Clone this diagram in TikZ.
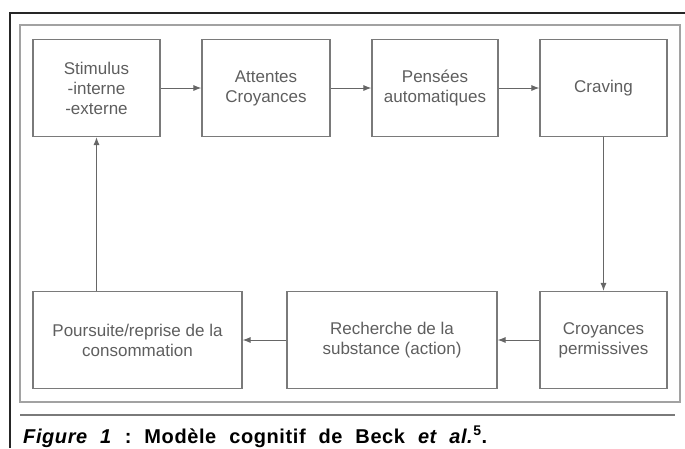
\documentclass[tikz,border=0pt]{standalone}
\usepackage{fontspec}
\setmainfont{Liberation Sans}
\usetikzlibrary{arrows.meta}
\definecolor{boxgray}{HTML}{7A7A7A}
\definecolor{textgray}{HTML}{5E5E5E}

\begin{document}
\begin{tikzpicture}[x=1pt,y=-1pt,
  etape/.style={draw=boxgray,line width=1.1pt,minimum height=97pt,align=center,
    text=textgray,font=\fontsize{17}{20}\selectfont,inner sep=0pt},
  fleche/.style={draw=black!60,line width=1pt,-{Latex[length=8pt,width=6pt]}}]

\useasboundingbox (0,0) rectangle (685,448);

% cadres
\draw[line width=2pt,black!85] (10,448)--(10,13)--(685,13);
\draw[boxgray!70,line width=1.6pt] (20,25) rectangle (680,402);
\draw[boxgray,line width=1.2pt] (20,415)--(675,415);

% ligne du haut
\node[etape,minimum width=127pt] (stim) at (96.5,88) {Stimulus\\-interne\\-externe};
\node[etape,minimum width=128pt] (att) at (266,88) {Attentes\\Croyances};
\node[etape,minimum width=126pt] (pens) at (435,88) {Pensées\\automatiques};
\node[etape,minimum width=127pt] (crav) at (603.5,88) {Craving};

% ligne du bas
\node[etape,minimum width=127pt] (perm) at (603.5,340) {Croyances\\permissives};
\node[etape,minimum width=210pt] (rech) at (392,340) {Recherche de la\\substance (action)};
\node[etape,minimum width=209pt] (pours) at (137.5,340) {Poursuite/reprise de la\\consommation};

\draw[fleche] (stim)--(att);
\draw[fleche] (att)--(pens);
\draw[fleche] (pens)--(crav);
\draw[fleche] (crav)--(perm);
\draw[fleche] (perm)--(rech);
\draw[fleche] (rech)--(pours);
\draw[fleche] (pours.north -| stim.south)--(stim.south);

\node[anchor=base west,font=\fontsize{20}{22}\selectfont\bfseries\addfontfeature{LetterSpace=3}\frenchspacing,inner sep=0pt] (legende) at (23,443)
  {\makebox[464pt][s]{\textit{Figure 1} : Modèle cognitif de Beck \textit{et al.}\textsuperscript{5}.}};

\end{tikzpicture}
\end{document}
